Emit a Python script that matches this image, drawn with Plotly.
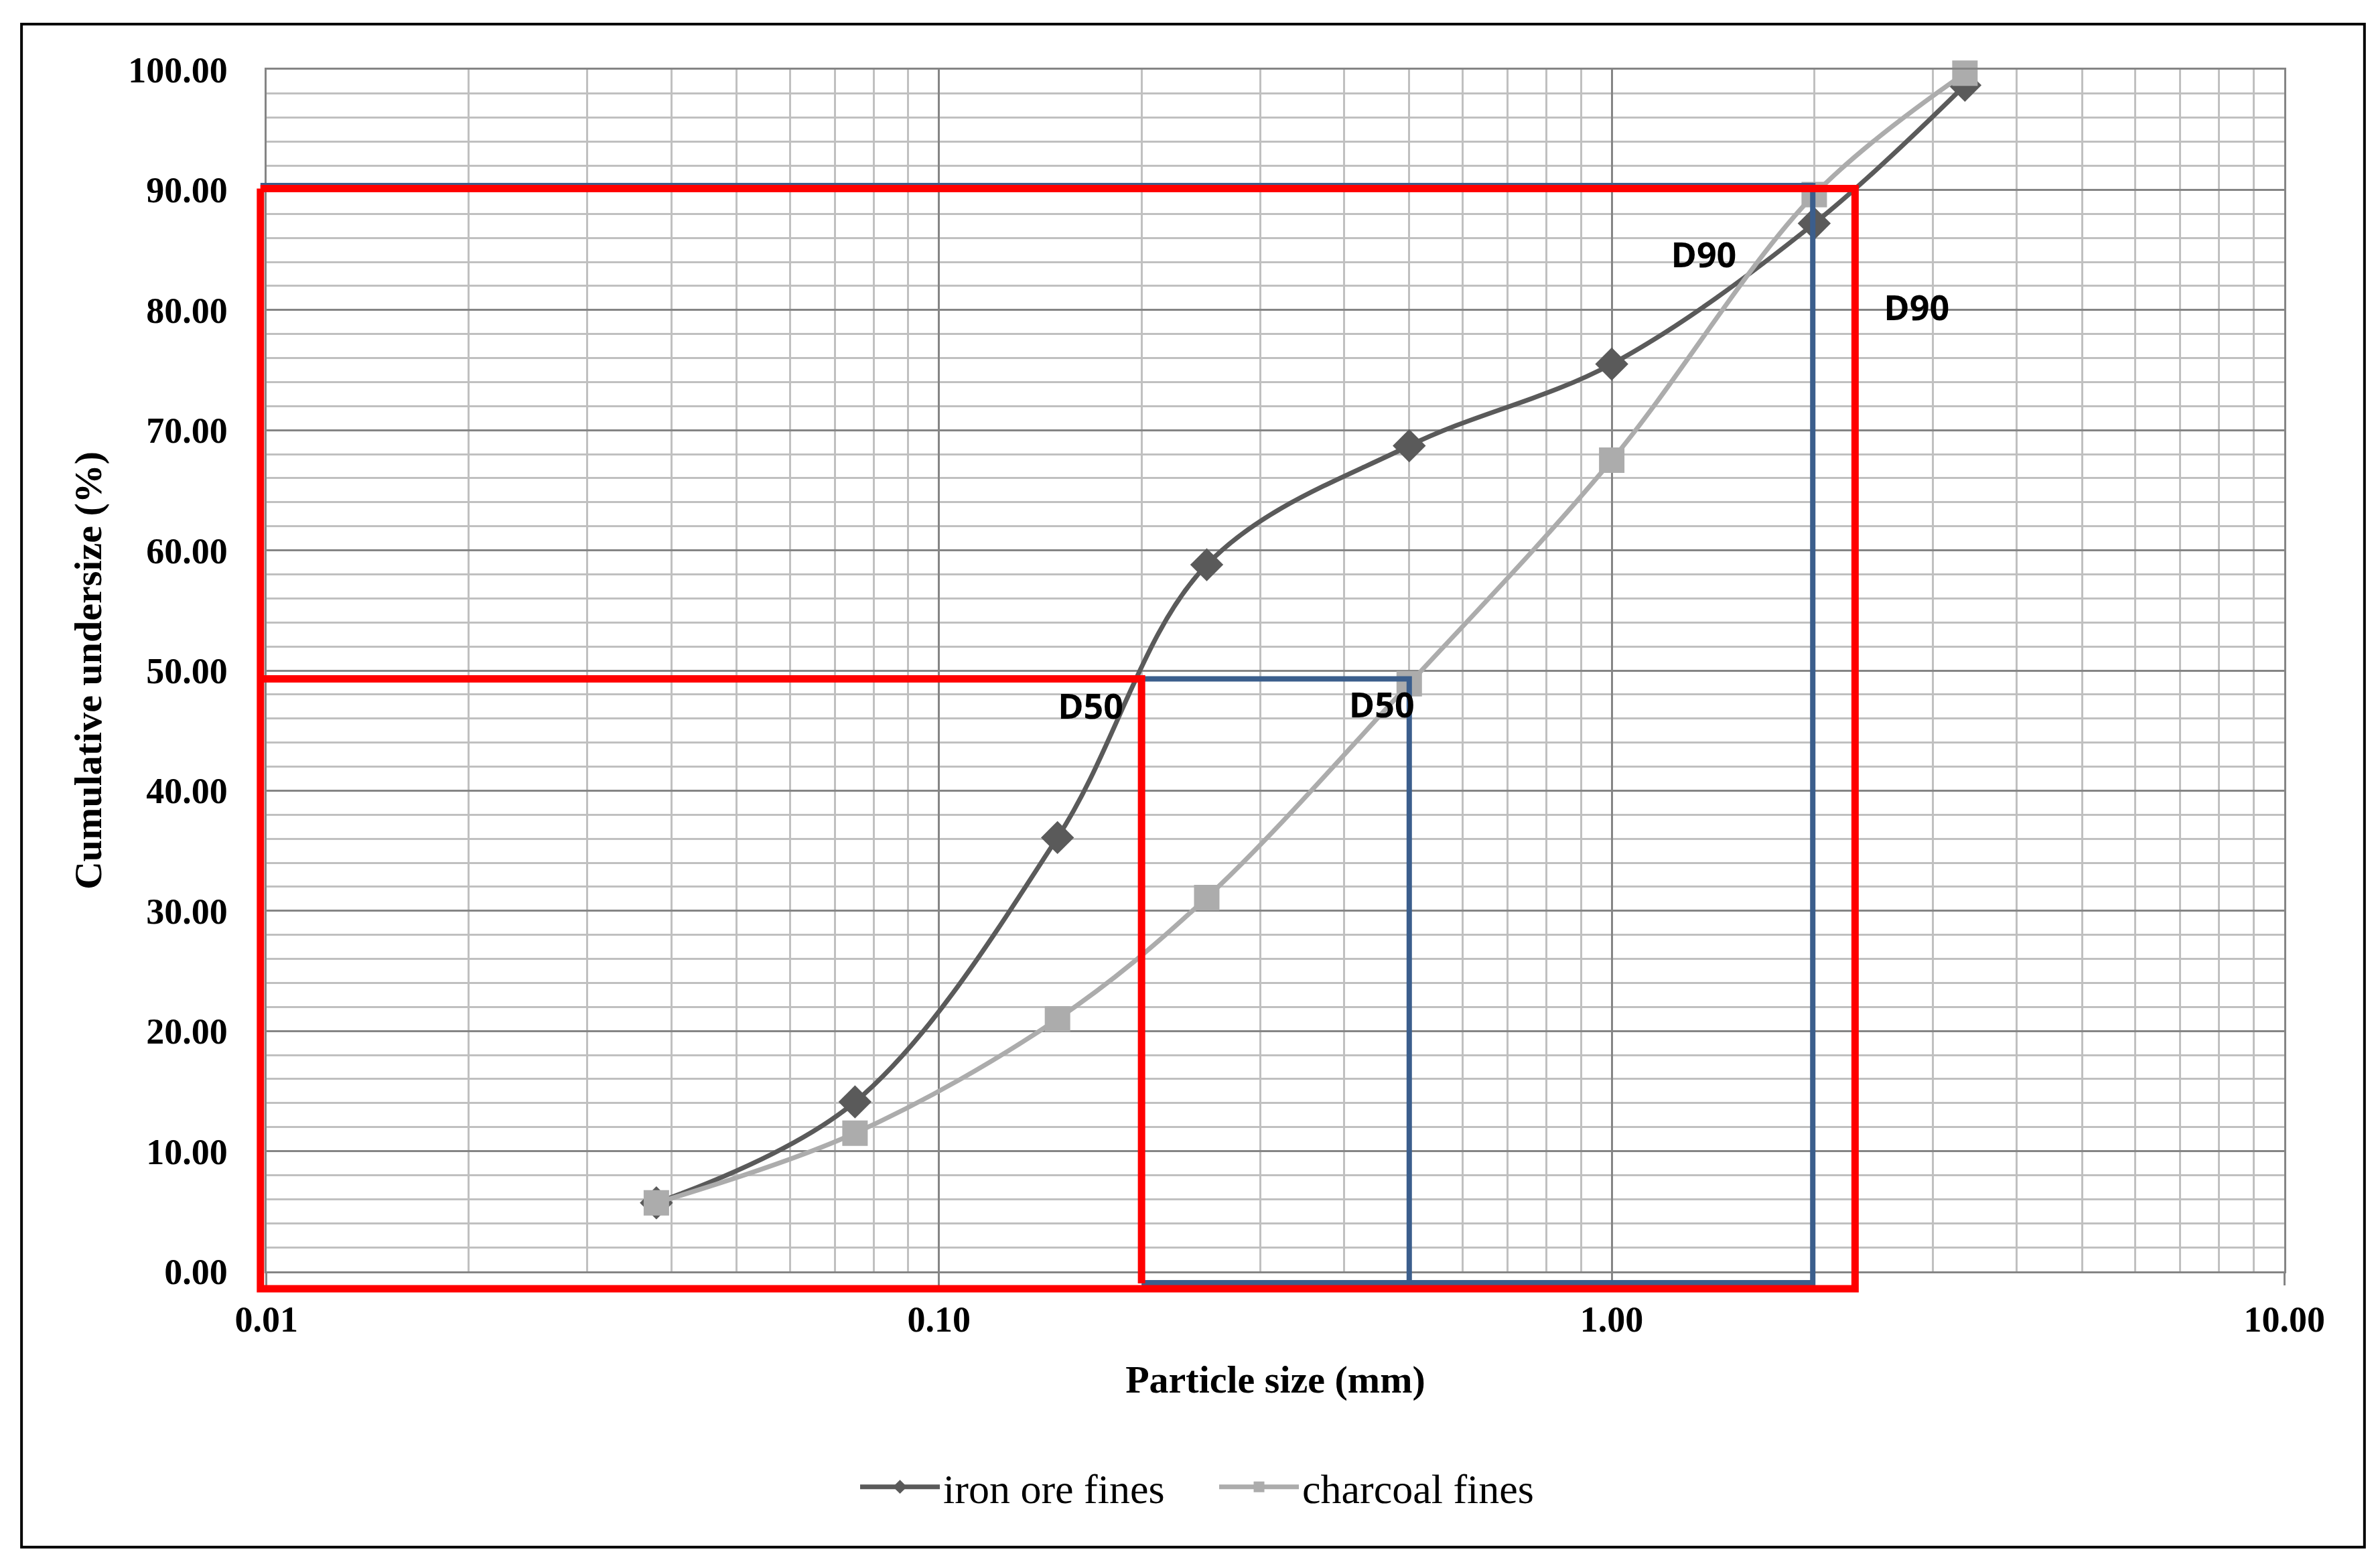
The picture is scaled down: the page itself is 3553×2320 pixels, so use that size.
import plotly.graph_objects as go
import math

# ---------------- data ----------------
particle_size = [0.038, 0.075, 0.15, 0.25, 0.5, 1.0, 2.0, 3.35]
iron_ore_fines = [5.7, 14.1, 36.1, 58.8, 68.7, 75.5, 87.2, 98.7]
charcoal_fines = [5.7, 11.5, 21.0, 31.1, 48.9, 67.5, 89.6, 99.7]

x_tick_vals = [0.01, 0.1, 1, 10]
x_tick_text = ["0.01", "0.10", "1.00", "10.00"]
y_tick_vals = [0, 10, 20, 30, 40, 50, 60, 70, 80, 90, 100]

# D50 / D90 guide lines (data coordinates)
red_d90_x = [0.0098, 2.3, 2.3, 0.0098, 0.0098]
red_d90_y = [90.1, 90.1, -1.45, -1.45, 90.1]
red_d50_x = [0.0098, 0.2, 0.2]
red_d50_y = [49.3, 49.3, -1.0]
blue_d90_x = [0.0098, 1.99, 1.99, 0.2]
blue_d90_y = [90.35, 90.35, -0.95, -0.95]
blue_d50_x = [0.2, 0.5, 0.5]
blue_d50_y = [49.3, 49.3, -0.95]

label_text = ["D50", "D50", "D90", "D90"]
label_x = [0.168, 0.455, 1.37, 2.84]
label_y = [46.7, 46.8, 84.3, 79.9]

# ---------------- layout geometry ----------------
W, H = 3553, 2320
ML, MR, MT, MB = 300, 60, 40, 360
PL, PR, PT, PB = 390, 3415, 95, 1890  # plot area in pixels
IW, IH = W - ML - MR, H - MT - MB
dx0, dx1 = (PL - ML) / IW, (PR - ML) / IW
dy0, dy1 = (H - MB - PB) / IH, (H - MB - PT) / IH

xr = [math.log10(0.01), math.log10(10)]
yr = [0, 100]
xs = (xr[1] - xr[0]) / (dx1 - dx0)
ys = (yr[1] - yr[0]) / (dy1 - dy0)
x2r = [xr[0] - dx0 * xs, xr[1] + (1 - dx1) * xs]
y2r = [yr[0] - dy0 * ys, yr[1] + (1 - dy1) * ys]

SERIF = "Liberation Serif"
MAJOR = "#858585"
MINOR = "#c0c0c0"
RED = "#ff0000"
BLUE = "#3b5e8c"

fig = go.Figure()

fig.add_trace(go.Scatter(
    x=particle_size, y=iron_ore_fines, name="iron ore fines",
    mode="lines+markers", line=dict(color="#5a5a5a", width=7, shape="spline"),
    marker=dict(symbol="diamond", size=38, color="#5a5a5a"),
    cliponaxis=False, xaxis="x", yaxis="y"))
fig.add_trace(go.Scatter(
    x=particle_size, y=charcoal_fines, name="charcoal fines",
    mode="lines+markers", line=dict(color="#acacac", width=7, shape="spline"),
    marker=dict(symbol="square", size=38, color="#acacac"),
    cliponaxis=False, xaxis="x", yaxis="y"))

for xs_, ys_, col, w in [(blue_d90_x, blue_d90_y, BLUE, 8),
                         (blue_d50_x, blue_d50_y, BLUE, 8),
                         (red_d90_x, red_d90_y, RED, 11),
                         (red_d50_x, red_d50_y, RED, 11)]:
    fig.add_trace(go.Scatter(x=xs_, y=ys_, mode="lines", showlegend=False,
                             hoverinfo="skip", line=dict(color=col, width=w),
                             xaxis="x2", yaxis="y2"))

fig.add_trace(go.Scatter(x=label_x, y=label_y, text=label_text, mode="text",
                         showlegend=False, hoverinfo="skip", cliponaxis=False,
                         textfont=dict(family="Open Sans", size=52, color="#000000", weight="bold"),
                         xaxis="x2", yaxis="y2"))

fig.update_layout(
    width=W, height=H,
    margin=dict(l=ML, r=MR, t=MT, b=MB),
    paper_bgcolor="white", plot_bgcolor="rgba(0,0,0,0)",
    font=dict(family=SERIF, color="black"),
    xaxis=dict(
        type="log", range=xr, domain=[dx0, dx1],
        tickvals=x_tick_vals, ticktext=x_tick_text,
        tickfont=dict(family=SERIF, size=54, weight="bold"),
        ticks="outside", ticklen=18, tickwidth=3, tickcolor=MAJOR,
        ticklabelstandoff=4,
        showgrid=True, gridcolor=MAJOR, gridwidth=3,
        minor=dict(tickvals=[m * 10 ** e for e in (-2, -1, 0) for m in range(2, 10)],
                   showgrid=True, gridcolor=MINOR, gridwidth=3, ticks=""),
        showline=True, linecolor=MAJOR, linewidth=3, mirror=True,
        zeroline=False,
        title=dict(text="Particle size (mm)", font=dict(family=SERIF, size=58, weight="bold"),
                   standoff=40),
    ),
    yaxis=dict(
        range=yr, domain=[dy0, dy1],
        tickvals=y_tick_vals, tickformat=".2f",
        tickfont=dict(family=SERIF, size=54, weight="bold"),
        ticks="outside", ticklen=44, tickcolor="rgba(0,0,0,0)",
        showgrid=True, gridcolor=MAJOR, gridwidth=3,
        minor=dict(dtick=2, showgrid=True, gridcolor=MINOR, gridwidth=3, ticks=""),
        showline=True, linecolor=MAJOR, linewidth=3, mirror=True,
        zeroline=False,
        title=dict(text="Cumulative undersize (%)", font=dict(family=SERIF, size=58, weight="bold"),
                   standoff=22),
    ),
    xaxis2=dict(type="log", range=x2r, domain=[0, 1], visible=False, anchor="y2",
                showgrid=False, zeroline=False),
    yaxis2=dict(range=y2r, domain=[0, 1], visible=False, anchor="x2",
                showgrid=False, zeroline=False),
    legend=dict(orientation="h", x=(1275 - ML) / IW, xanchor="left",
                y=(H - MB - 2212) / IH, yanchor="middle",
                font=dict(family=SERIF, size=62), itemwidth=119,
                entrywidth=402, entrywidthmode="pixels",
                bgcolor="rgba(0,0,0,0)"),
    shapes=[dict(type="rect", xref="paper", yref="paper",
                 x0=(23 - ML) / IW, x1=(3535 - ML) / IW,
                 y0=(H - MB - 2302) / IH, y1=(H - MB - 27) / IH,
                 line=dict(color="black", width=4), fillcolor="rgba(0,0,0,0)",
                 layer="above")],
)

fig.write_html("out.html")
